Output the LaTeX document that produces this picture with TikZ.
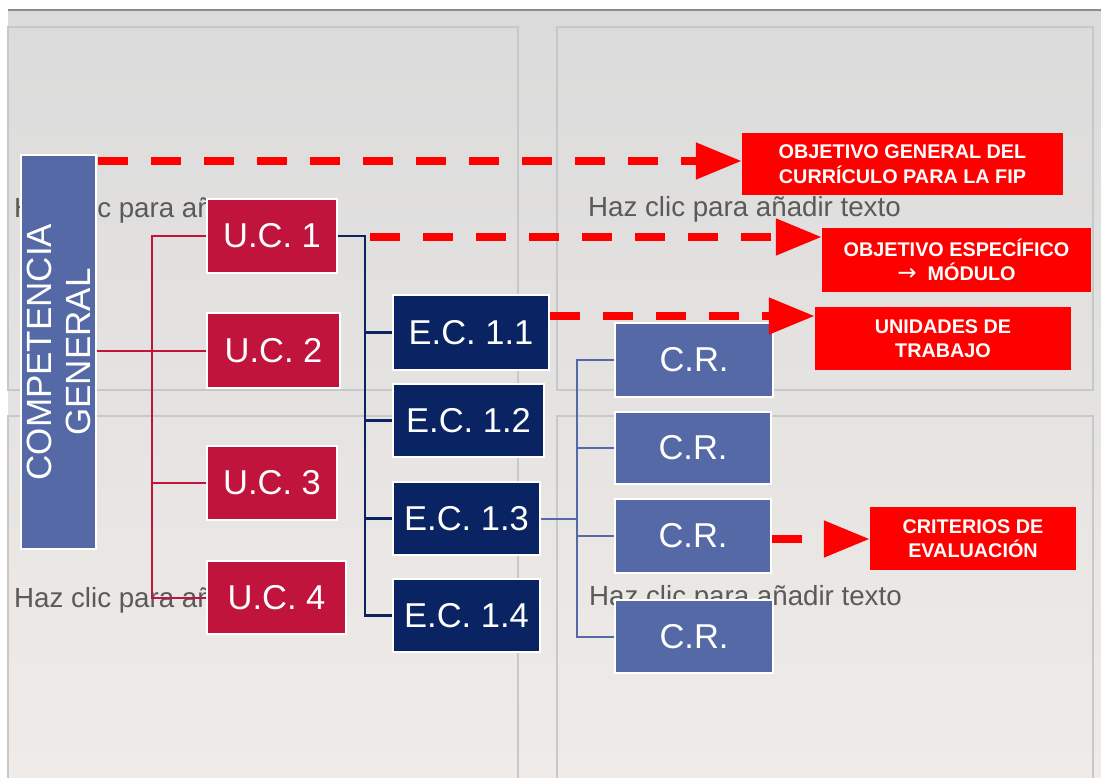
\documentclass[tikz,border=0pt]{standalone}
\usepackage{fontspec}
\setmainfont{Liberation Sans}
\newfontfamily\arrowfont{DejaVu Sans}
\usetikzlibrary{arrows.meta,calc}
\definecolor{ucred}{HTML}{C0143C}
\definecolor{ecnavy}{HTML}{0A2463}
\definecolor{crblue}{HTML}{5569A6}
\definecolor{lblred}{HTML}{FF0000}
\definecolor{phgray}{HTML}{5A5A5A}
\definecolor{panelline}{HTML}{C8C8C8}
\tikzset{
  box/.style={draw=white, line width=1.2pt, text=white, inner sep=0pt,
    font=\fontsize{34.5}{40}\selectfont},
  ucbox/.style={box, fill=ucred},
  ecbox/.style={box, fill=ecnavy},
  crbox/.style={box, fill=crblue},
  cgbox/.style={box, fill=crblue},
  cgtext/.style={text=white, inner sep=0pt, align=center, rotate=90,
    font=\fontsize{35}{39}\selectfont},
  lblbox/.style={fill=lblred, text=white, inner sep=0pt, align=center,
    font=\fontsize{19.8}{24.5}\selectfont\bfseries},
  redarrow/.style={draw=lblred, line width=8pt, dash pattern=on 30pt off 23pt,
    -{Triangle[length=46pt,width=35pt]}},
  ucline/.style={draw=ucred, line width=2pt},
  ecline/.style={draw=ecnavy, line width=2.5pt},
  crline/.style={draw=crblue, line width=2pt},
  panel/.style={draw=panelline, line width=1.5pt},
  hint/.style={text=phgray, inner sep=0pt, anchor=base west,
    font=\fontsize{27.7}{32}\selectfont}
}
\begin{document}
\begin{tikzpicture}[x=1pt,y=-1pt]
\useasboundingbox (0,0) rectangle (1101,778);
% background
\fill[white] (0,0) rectangle (1101,778);
\shade[top color={rgb,255:red,219;green,219;blue,219}, middle color={rgb,255:red,230;green,228;blue,226}, bottom color={rgb,255:red,239;green,235;blue,232}] (8,10) rectangle (1101,778);
\draw[draw={rgb,255:red,140;green,140;blue,140}, line width=2pt] (8,10) -- (1101,10);
% panels
\draw[panel] (8,27) rectangle (518,390);
\draw[panel] (557,27) rectangle (1093,390);
\draw[panel] (8,778) -- (8,416) -- (518,416) -- (518,778);
\draw[panel] (557,778) -- (557,416) -- (1093,416) -- (1093,778);
% placeholder texts (partly hidden by the boxes)
\begin{scope}
\clip (0,0) rectangle (207,778);
\node[hint] (h1) at (14,218) {Haz clic para añ};
\node[hint] (h3) at (14,607) {Haz clic para añ};
\end{scope}
\node[hint] (h2) at (588,217) {Haz clic para añadir texto};
\node[hint] (h4) at (589,605) {Haz clic para añadir texto};
% nodes
\node[cgbox, minimum width=75pt, minimum height=394pt] (CG) at (58.5,352) {};
\node[cgtext] (CGt) at (CG.center) {COMPETENCIA\\GENERAL};
\node[ucbox, minimum width=130pt, minimum height=74pt] (UC1) at (272,236) {U.C. 1};
\node[ucbox, minimum width=133pt, minimum height=75pt] (UC2) at (273.5,350.5) {U.C. 2};
\node[ucbox, minimum width=130pt, minimum height=74pt] (UC3) at (272,483) {U.C. 3};
\node[ucbox, minimum width=139pt, minimum height=73pt] (UC4) at (276.5,597.5) {U.C. 4};
\node[ecbox, minimum width=156pt, minimum height=75pt] (E11) at (471,332.5) {E.C. 1.1};
\node[ecbox, minimum width=151pt, minimum height=73pt] (E12) at (468.5,420.5) {E.C. 1.2};
\node[ecbox, minimum width=147pt, minimum height=73pt] (E13) at (466.5,518.5) {E.C. 1.3};
\node[ecbox, minimum width=147pt, minimum height=73pt] (E14) at (466.5,615.5) {E.C. 1.4};
\node[crbox, minimum width=158pt, minimum height=74pt] (CR1) at (694,360) {C.R.};
\node[crbox, minimum width=156pt, minimum height=72pt] (CR2) at (693,448) {C.R.};
\node[crbox, minimum width=156pt, minimum height=74pt] (CR3) at (693,536) {C.R.};
\node[crbox, minimum width=158pt, minimum height=73pt] (CR4) at (694,636.5) {C.R.};
% connectors
\coordinate (rt) at (152,0);
\coordinate (nt) at (365,0);
\coordinate (bt) at (577,0);
\draw[ucline] (CG.east |- UC2.west) -- (UC2.west);
\draw[ucline] (UC1.west) -- (UC1.west -| rt) -- (UC4.west -| rt) -- (UC4.west);
\draw[ucline] (UC3.west -| rt) -- (UC3.west);
\draw[ecline] (UC1.east) -- (UC1.east -| nt) -- (E14.west -| nt) -- (E14.west);
\draw[ecline] (E11.west -| nt) -- (E11.west);
\draw[ecline] (E12.west -| nt) -- (E12.west);
\draw[ecline] (E13.west -| nt) -- (E13.west);
\draw[crline] (E13.east) -- (E13.east -| bt);
\draw[crline] (CR1.west) -- (CR1.west -| bt) -- (CR4.west -| bt) -- (CR4.west);
\draw[crline] (CR2.west -| bt) -- (CR2.west);
\draw[crline] (CR3.west -| bt) -- (CR3.west);
% label boxes
\node[lblbox, minimum width=321pt, minimum height=62pt] (R1) at (902.5,164) {OBJETIVO GENERAL DEL\\CURRÍCULO PARA LA FIP};
\node[lblbox, minimum width=269pt, minimum height=64pt] (R2) at (956.5,260) {OBJETIVO ESPECÍFICO\\{\arrowfont\mdseries\fontsize{23}{24.5}\selectfont →}\ \ MÓDULO};
\node[lblbox, minimum width=256pt, minimum height=63pt] (R3) at (943,338.5) {UNIDADES DE\\TRABAJO};
\node[lblbox, minimum width=206pt, minimum height=63pt] (R4) at (973,538.5) {CRITERIOS DE\\EVALUACIÓN};
% red dashed arrows
\coordinate (a1) at (98,161);
\coordinate (a2) at (370,237);
\coordinate (a3) at (550,316);
\coordinate (a4) at (772,539);
\draw[redarrow] (a1) -- (a1 -| R1.west);
\draw[redarrow] (a2) -- (a2 -| R2.west);
\draw[redarrow] (a3) -- (a3 -| R3.west);
\draw[redarrow] (a4) -- (a4 -| R4.west);
\end{tikzpicture}
\end{document}
